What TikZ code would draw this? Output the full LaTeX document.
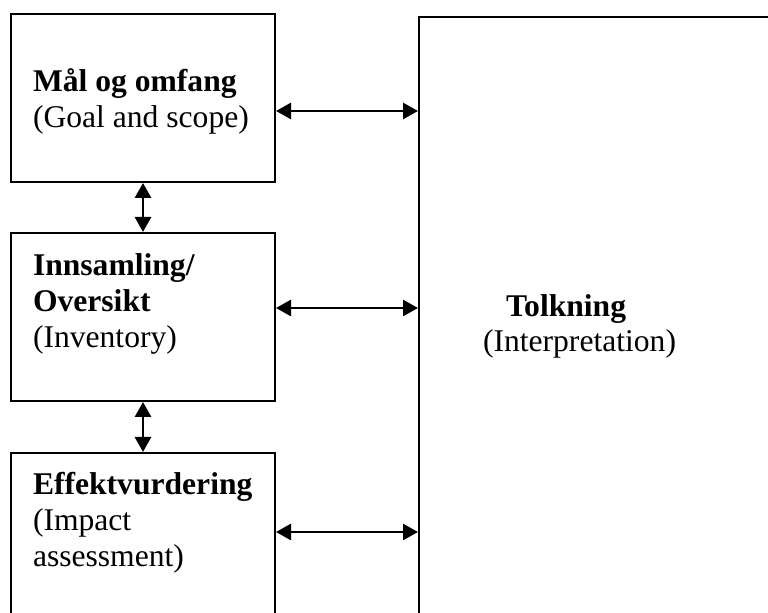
\documentclass[tikz,border=0pt]{standalone}
\usepackage{fontspec}
\setmainfont{Liberation Serif}
\usetikzlibrary{arrows.meta}

\begin{document}
\begin{tikzpicture}[x=0.5pt,y=-0.5pt,line width=1pt]
\tikzstyle{stage}=[rectangle,draw,line width=1pt,minimum width=132pt,minimum height=84pt,inner sep=0pt]
\tikzstyle{txt}=[anchor=base west,align=left,inner sep=0pt,font=\fontsize{15.8}{18.2}\selectfont]
\tikzstyle{link}=[line width=1.4pt,{Triangle[length=7.5pt,width=8pt]}-{Triangle[length=7.5pt,width=8pt]}]
\useasboundingbox (0,0) rectangle (768,613);
\clip (0,0) rectangle (768,613);

\node[stage](goal) at (143,98) {};
\node[stage](inv) at (143,317) {};
\node[stage,minimum height=94pt](impact) at (143,547) {};
\node[stage,minimum width=200pt,minimum height=320pt](tolk) at (619,337) {};

% base of a multi-line node is its last line
\node[txt](goaltxt) at (32,128) {\textbf{Mål og omfang}\\(Goal and scope)};
\node[txt](invtxt) at (32,348) {\textbf{Innsamling/}\\\textbf{Oversikt}\\(Inventory)};
\node[txt](imptxt) at (32,567) {\textbf{Effektvurdering}\\(Impact\\assessment)};
\node[txt](tolktxt) at (505,317) {\textbf{Tolkning}};
\node[txt](interp) at (482,352) {(Interpretation)};

\draw[link] (goal.south) -- (inv.north); % stage to stage
\draw[link] (inv.south) -- (impact.north);
\draw[link] ([yshift=-6.5pt]goal.east) -- ([yshift=-6.5pt]goal.east -| tolk.west);
\draw[link] ([yshift=4.5pt]inv.east) -- ([yshift=4.5pt]inv.east -| tolk.west);
\draw[link] ([yshift=7.5pt]impact.east) -- ([yshift=7.5pt]impact.east -| tolk.west);

\end{tikzpicture}
\end{document}
